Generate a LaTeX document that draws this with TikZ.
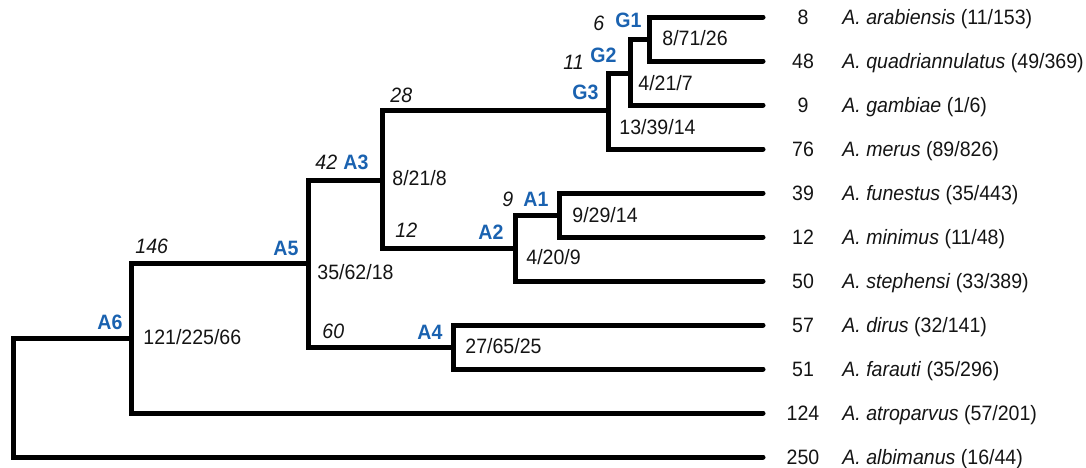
\documentclass[tikz,border=0pt]{standalone}
\usepackage{fontspec}
\setmainfont{Liberation Sans}[FakeStretch=0.94]
\usepackage{xcolor}
\usepackage{tikz}
\definecolor{ink}{HTML}{141414}
\definecolor{clade}{HTML}{1A62B0}

\begin{document}
\begin{tikzpicture}[x=0.5pt,y=-0.5pt,line cap=round,line join=miter,
    branch/.style={line width=2.5pt,black},
    txt/.style={inner sep=0pt,font=\fontsize{10.4}{12}\selectfont,text=ink,yshift=-3.7pt},
    supp/.style={txt,anchor=base west},
    gain/.style={txt,anchor=base west,font=\fontsize{10.4}{12}\selectfont\itshape},
    cladelab/.style={txt,anchor=base west,text=clade,font=\fontsize{10.4}{12}\selectfont\bfseries}]
  \useasboundingbox (0,0) rectangle (1086,467);
  % tips, with the count and the species name
  \foreach \p/\y/\k/\sp/\a/\b in {ara/17/8/arabiensis/11/153,qua/61/48/quadriannulatus/49/369,
      gam/105/9/gambiae/1/6,mer/149/76/merus/89/826,fun/193/39/funestus/35/443,
      min/237/12/minimus/11/48,ste/281/50/stephensi/33/389,dir/325/57/dirus/32/141,
      far/369/51/farauti/35/296,atr/413/124/atroparvus/57/201,alb/457/250/albimanus/16/44}{
     \coordinate (\p) at (763,\y);
     \node[txt,anchor=base] (\p-n) at (803,\y) {\k};
     \node[supp] (\p-s) at (842,\y) {\textit{A. \sp} (\a/\b)};
  }
  % inner nodes
  \coordinate (g1) at (649,39);
  \coordinate (g2) at (630,73);
  \coordinate (g3) at (608,110);
  \coordinate (a1) at (559,215);
  \coordinate (a2) at (515,248);
  \coordinate (a3) at (382,180);
  \coordinate (a4) at (453,347);
  \coordinate (a5) at (308,263);
  \coordinate (a6) at (131,338);
  \coordinate (root) at (13,397);
  \foreach \u/\v in {g1/ara,g1/qua,g2/g1,g2/gam,g3/g2,g3/mer,a1/fun,a1/min,a2/a1,a2/ste,
      a3/g3,a3/a2,a4/dir,a4/far,a5/a3,a5/a4,a6/a5,a6/atr,root/a6,root/alb}
     \draw[branch] (\u) |- (\v);
  % clade names
  \foreach \p/\x/\y/\n in {g1/615/20/G1,g2/590/55/G2,g3/572/92/G3,a1/523/199/A1,a2/478/232/A2,
      a3/343/162/A3,a4/417/332/A4,a5/273/248/A5,a6/97/322/A6}
     \node[cladelab] (\p-lab) at (\x,\y) {\n};
  % branch counts
  \foreach \p/\x/\y/\n in {g1/593/23/6,g2/563/62/11,g3/390/95/28,a1/502/199/9,a2/395/230/12,
      a3/315/162/42,a4/322/331/60,a5/135/246/146}
     \node[gain] (\p-br) at (\x,\y) {\n};
  % support triples
  \foreach \p/\x/\y/\r/\s/\t in {g1/662/38/8/71/26,g2/638/83/4/21/7,g3/619/127/13/39/14,
      a3/392/178/8/21/8,a1/572/215/9/29/14,a2/526/257/4/20/9,a5/317/272/35/62/18,
      a4/465/346/27/65/25,a6/143/337/121/225/66}
     \node[supp] (\p-sup) at (\x,\y) {\r/\s/\t};
\end{tikzpicture}
\end{document}
